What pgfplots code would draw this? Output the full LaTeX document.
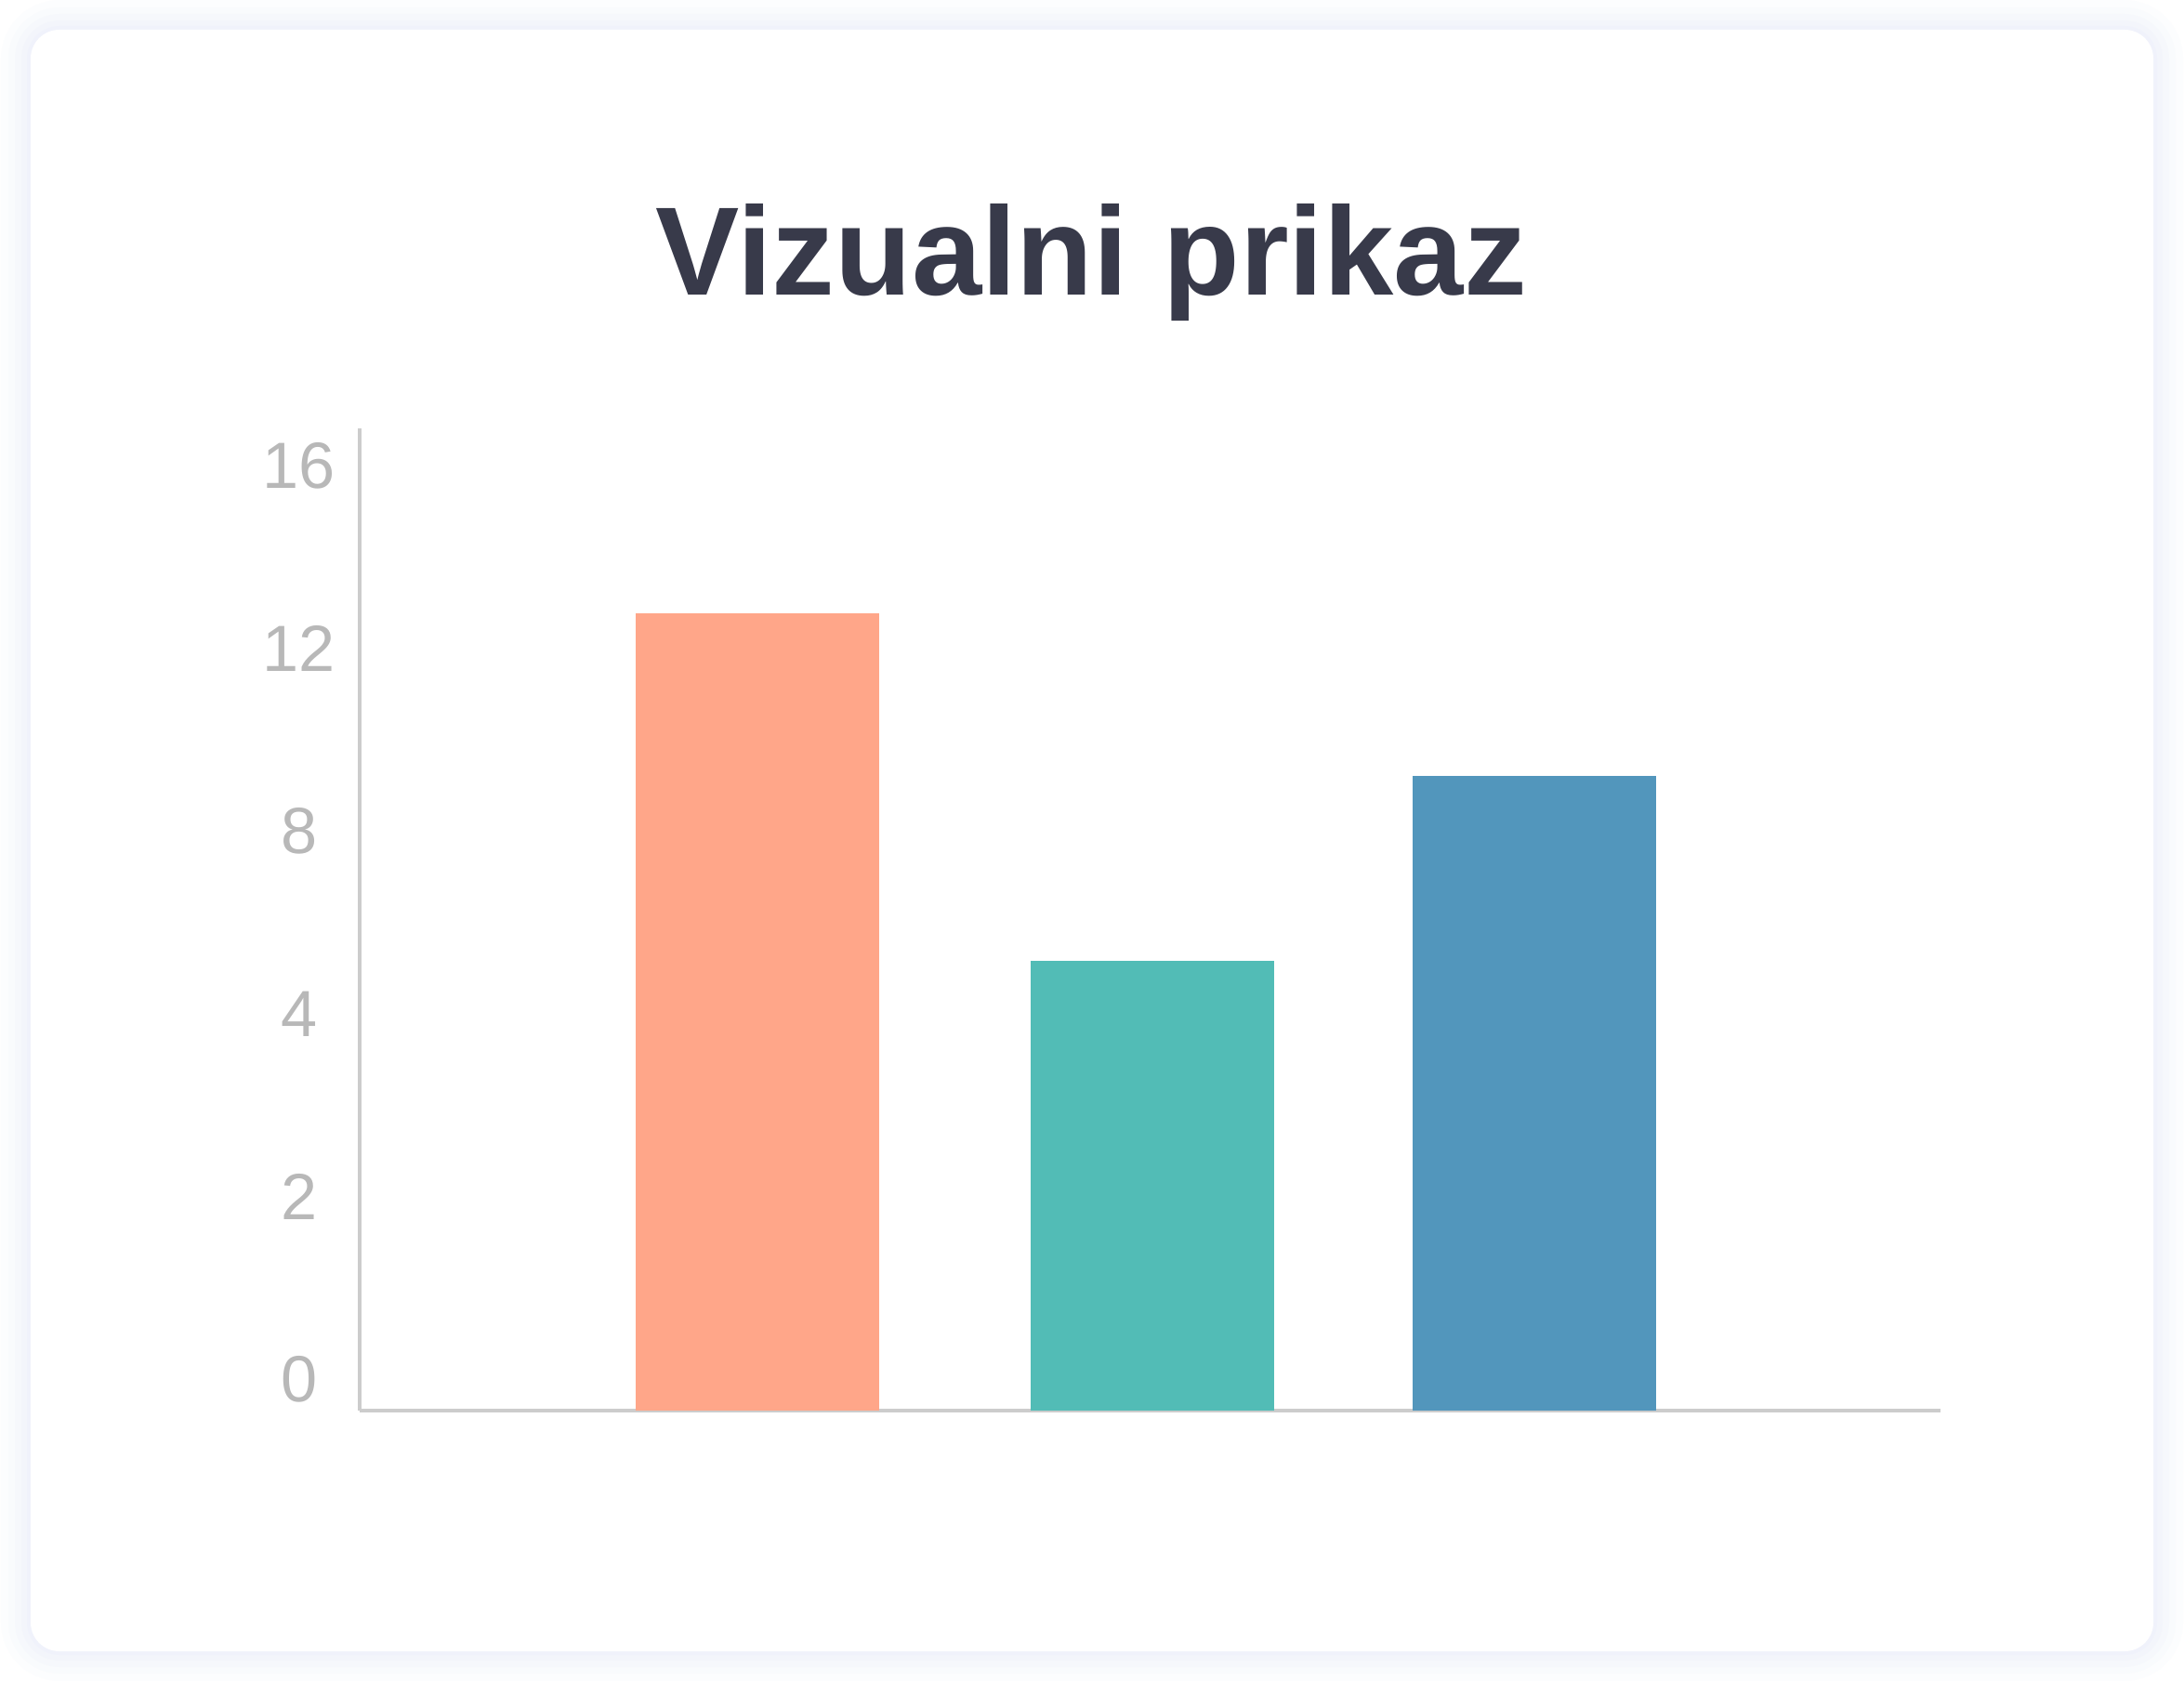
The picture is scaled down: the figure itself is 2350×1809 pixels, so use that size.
\documentclass[border=0pt]{standalone}
\usepackage{pgfplots}
\pgfplotsset{compat=1.18}
\usepackage{fontspec}
\setmainfont{Liberation Sans}
\definecolor{barorange}{HTML}{FFA689}
\definecolor{barteal}{HTML}{52BCB6}
\definecolor{barblue}{HTML}{5296BC}
\definecolor{titlecol}{HTML}{383A4A}
\definecolor{tickcol}{HTML}{B8B8B8}
\definecolor{axisgray}{HTML}{CCCCCC}
\definecolor{shadowblue}{HTML}{E4EAFB}
\begin{document}
\begin{tikzpicture}[x=0.1mm,y=-0.1mm]
% page and card
\path[use as bounding box, fill=white] (0,0) rectangle (2350,1809);
\foreach \w/\o in {64/0.08, 48/0.1, 34/0.12, 20/0.15, 8/0.2}
  \draw[line width=\w*0.1mm, draw=shadowblue, opacity=\o, rounded corners=3.1mm] (33,32) rectangle (2317,1777);
\fill[white, rounded corners=3.1mm] (33,32) rectangle (2317,1777);

\node[anchor=base, font=\fontsize{38.5}{46}\selectfont\bfseries, text=titlecol] at (1174,318) {Vizualni prikaz};
\coordinate (O) at (387,1518);

\begin{axis}[
  at={(O)}, anchor=south west,
  scale only axis, width=170.1mm, height=105.7mm,
  xmin=-0.01, xmax=4,
  ymin=0, ymax=17.52,
  y coord trafo/.code={\pgfmathparse{#1<=4 ? #1/2 : 2+(#1-4)/4}},
  axis x line*=bottom, axis y line*=left,
  axis line style={draw=axisgray, line width=0.35mm, -},
  xtick=\empty,
  ytick={0,2,4,8,12,16},
  yticklabels={0,2,4,8,12,16},
  major tick length=0pt,
  yticklabel style={font=\fontsize{20}{24}\selectfont, text=tickcol, anchor=center, xshift=-6.5mm, yshift=3.4mm},
  /pgf/number format/assume math mode=true,
]
\addplot[ybar, bar width=26.2mm, fill=barorange, draw=none] coordinates {(1,13.46)};
\addplot[ybar, bar width=26.2mm, fill=barteal, draw=none] coordinates {(2,5.86)};
\addplot[ybar, bar width=26.2mm, fill=barblue, draw=none] coordinates {(2.97,9.91)};
\end{axis}
\end{tikzpicture}
\end{document}
